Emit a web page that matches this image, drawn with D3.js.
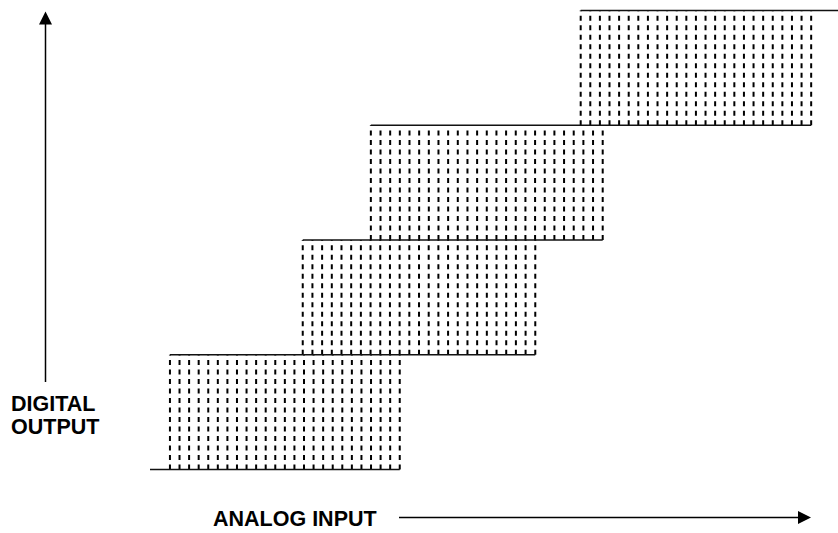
<!DOCTYPE html>
<html>
<head>
<meta charset="utf-8">
<script src="https://cdn.jsdelivr.net/npm/d3@7"></script>
<style>
    body { margin: 0; background: #fff; }
    svg { display: block; }
    .lbl { font-family: "Liberation Sans", Arial, sans-serif; font-weight: bold; font-size: 21.5px; fill: #000; }
</style>
</head>
<body>
<div class="chart"></div>
<script>
// output codes (levels of the staircase)
var codes = [0, 1, 2, 3, 4];
// analog input range (arbitrary units) where each transition to the next code may happen
var transLo = [2.9, 22.2, 32.1, 62.6];
var transHi = [36.3, 56.0, 65.8, 96.1];
var inputMin = 0, inputMax = 100;
var hatchCount = 25;

var width = 838, height = 533;

var svg = d3.select(".chart")
    .append("svg")
    .attr("width", width)
    .attr("height", height);

var x = d3.scaleLinear().domain([inputMin, inputMax]).range([150, 838]);
var y = d3.scaleLinear().domain([0, 4]).range([469.5, 10.5]);

// hatched uncertainty bands
transLo.forEach(function(lo, k) {
    var hi = transHi[k];
    var xs = d3.range(hatchCount).map(function(i) { return lo + i * (hi - lo) / (hatchCount - 1); });
    svg.append("g")
        .selectAll("line")
        .data(xs)
        .enter()
        .append("line")
        .attr("x1", function(d) { return x(d); })
        .attr("x2", function(d) { return x(d); })
        .attr("y1", y(k))
        .attr("y2", y(k + 1))
        .attr("stroke", "#000")
        .attr("stroke-width", 2)
        .attr("stroke-dasharray", "5,4.5");
});

// level lines
var levels = codes.map(function(c) {
    var start = c === 0 ? inputMin : transLo[c - 1];
    var end = c === codes.length - 1 ? inputMax : transHi[c];
    return { code: c, start: start, end: end };
});

svg.append("g")
    .selectAll("line")
    .data(levels)
    .enter()
    .append("line")
    .attr("x1", function(d) { return x(d.start); })
    .attr("x2", function(d) { return x(d.end); })
    .attr("y1", function(d) { return y(d.code); })
    .attr("y2", function(d) { return y(d.code); })
    .attr("stroke", "#111")
    .attr("stroke-width", 1.6);

// y arrow
svg.append("line")
    .attr("x1", 45.5).attr("x2", 45.5)
    .attr("y1", 382).attr("y2", 22)
    .attr("stroke", "#000").attr("stroke-width", 1.5);
svg.append("path")
    .attr("d", "M39,24.5 L52,24.5 L45.5,11.5 Z")
    .attr("fill", "#000");

// x arrow
svg.append("line")
    .attr("x1", 399).attr("x2", 800)
    .attr("y1", 517.5).attr("y2", 517.5)
    .attr("stroke", "#000").attr("stroke-width", 1.5);
svg.append("path")
    .attr("d", "M798,511 L798,524 L811,517.5 Z")
    .attr("fill", "#000");

// labels
svg.append("text").attr("class", "lbl").attr("x", 11).attr("y", 411).text("DIGITAL");
svg.append("text").attr("class", "lbl").attr("x", 11).attr("y", 434).text("OUTPUT");
svg.append("text").attr("class", "lbl").attr("x", 213).attr("y", 526).text("ANALOG INPUT");
</script>
</body>
</html>
